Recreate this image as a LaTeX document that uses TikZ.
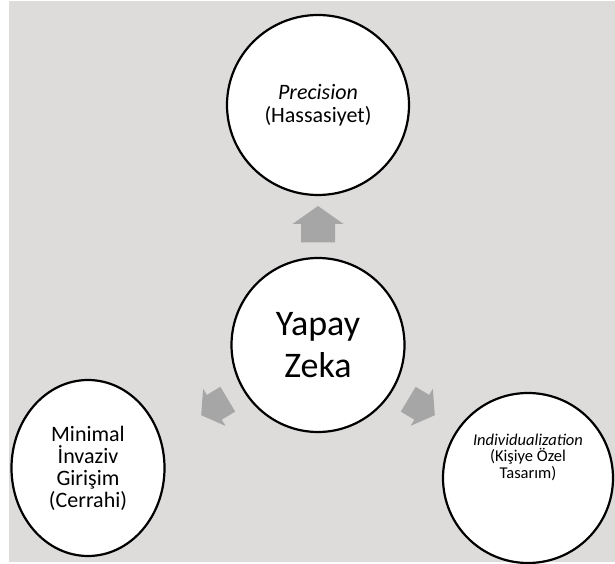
\documentclass[tikz,border=0pt]{standalone}
\usepackage{fontspec}
\setmainfont{Carlito}
\usetikzlibrary{shapes.geometric, positioning, calc}
\definecolor{bggray}{RGB}{222,219,219}
\definecolor{arrgray}{RGB}{166,166,166}

\begin{document}
\begin{tikzpicture}[
    x=1pt, y=1pt,
    bubble/.style={ellipse, draw, line width=2.2pt, fill=white, inner sep=0pt, align=center},
    blockarrow/.style={fill=arrgray}
]
    \useasboundingbox (0,0) rectangle (615,564);
    \fill[bggray] (9,2) rectangle (615,563);

    % Centre
    \node[bubble, minimum width=173pt, minimum height=174pt, font=\fontsize{36}{42}\selectfont] (ai) at (318,219) {Yapay\\Zeka};

    % Outer circles
    \node[bubble, minimum width=182pt, minimum height=180pt, font=\fontsize{22}{23}\selectfont] (prec) at ($(ai)+(0,240)$) {\textit{Precision}\\(Hassasiyet)};
    \node[bubble, minimum width=153pt, minimum height=176pt, font=\fontsize{22}{22}\selectfont] (mig) at ($(ai)+(-230,-123)$) {Minimal\\İnvaziv\\Girişim\\(Cerrahi)};
    \node[bubble, minimum width=170pt, minimum height=170pt] (indiv) at ($(ai)+(210,-133)$) {};
    \node[align=center, font=\fontsize{16.5}{16.5}\selectfont] (indivtext) at ($(indiv)+(0,21)$) {\textit{Individualization}\\(Kişiye Özel\\Tasarım)};

    % Block arrows
    \foreach \ang/\sc in {90/1, 211/0.85, -31/0.85}
        \fill[blockarrow, shift={($(ai)+(\ang:121)$)}, rotate=\ang, scale=\sc]
            (-18.5,-17) -- (0,-17) -- (0,-25.5) -- (18,0) -- (0,25.5) -- (0,17) -- (-18.5,17) -- cycle;
\end{tikzpicture}
\end{document}
